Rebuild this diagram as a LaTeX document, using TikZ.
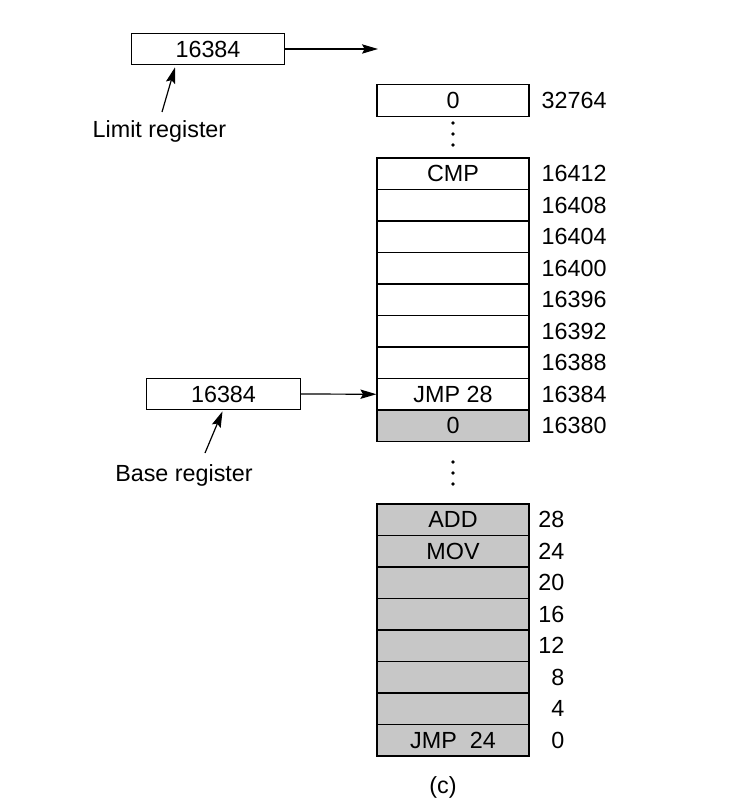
\documentclass[tikz,border=0pt]{standalone}
\usepackage{fontspec}
\setmainfont{Liberation Sans}
\usetikzlibrary{arrows.meta,calc}

\begin{document}
\begin{tikzpicture}[x=0.75pt,y=-0.75pt,line width=0.9pt,
    font=\fontsize{17.5}{20}\selectfont,
    >={Stealth[length=12pt,width=7pt,inset=2pt]},
    cell/.style={draw,minimum width=114pt,minimum height=23.6pt,inner sep=0pt},
    used/.style={cell,fill=black!22},
    reg/.style={draw,minimum width=115pt,minimum height=23.6pt,inner sep=0pt}]
  \useasboundingbox (0,0) rectangle (753,812);
  \node[cell] (ctop) at (453,100.5) {0};
  \node[anchor=west,inner sep=0pt] at (541,100.5) {32764};
  \foreach \y in {123,134,145,462,473,484}
    \fill (453,\y) circle[radius=1.9];
  \foreach \i/\txt/\adr in {0/CMP/16412,1//16408,2//16404,3//16400,4//16396,5//16392,6//16388,7/JMP 28/16384}
    \node[cell] (c\i) at (453,158+31.5*\i+15.75) {\txt}
      node[anchor=west,inner sep=0pt] at (541,158+31.5*\i+15.75) {\adr};
  \node[used] (c8) at (453,158+31.5*8+15.75) {0};
  \node[anchor=west,inner sep=0pt] at (541,158+31.5*8+15.75) {16380};
  \foreach \i/\txt/\adr in {0/ADD/28,1/MOV/24,2//20,3//16,4//12,5//8,6//4,7/JMP\ \ 24/0}
    \node[used] (d\i) at (453,504+31.5*\i+15.75) {\txt}
      node[anchor=east,inner sep=0pt] at (565,504+31.5*\i+15.75) {\adr};
  \node (cap) at (443,787) {(c)};

  \node[reg] (limit) at (208,49) {16384};
  \coordinate (limitend) at (378,49);
  \draw[->] (limit.east) -- (limitend);
  \node (limitlab) at (159.5,131) {Limit register};
  \draw[->] ($(limitlab)+(2.5,-19)$) -- ($(limit.south)+(-33,2)$);

  \node[reg] (base) at (223.5,394) {16384};
  \draw[->] (base.east) -- (c7.west);
  \node (baselab) at (184,475) {Base register};
  \draw[->] ($(baselab)+(21,-22)$) -- ($(base.south)+(-1,1)$);
\end{tikzpicture}
\end{document}
